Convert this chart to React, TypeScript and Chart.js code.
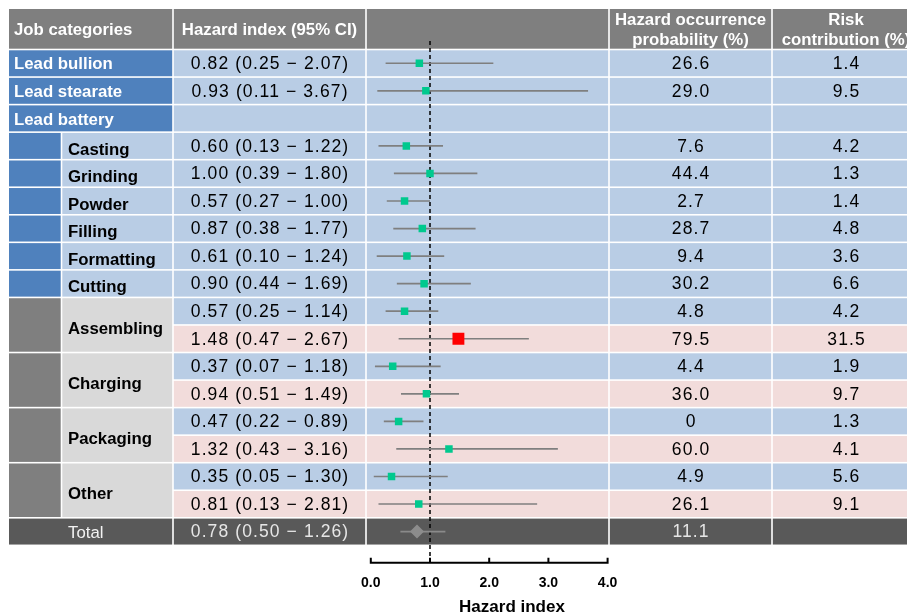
import React, { useEffect, useRef } from 'react';
import { Chart, registerables } from 'chart.js';

Chart.register(...registerables);

// ---------- data ----------
const topLabels = ['Lead bullion', 'Lead stearate', 'Lead battery'];
const subLabels = ['Casting', 'Grinding', 'Powder', 'Filling', 'Formatting', 'Cutting'];
const groupLabels = ['Assembling', 'Charging', 'Packaging', 'Other'];
const totalLabel = 'Total';

const hazardIndex: (number | null)[] = [0.82, 0.93, null, 0.60, 1.00, 0.57, 0.87, 0.61, 0.90, 0.57, 1.48, 0.37, 0.94, 0.47, 1.32, 0.35, 0.81, 0.78];
const ciLower: (number | null)[] = [0.25, 0.11, null, 0.13, 0.39, 0.27, 0.38, 0.10, 0.44, 0.25, 0.47, 0.07, 0.51, 0.22, 0.43, 0.05, 0.13, 0.50];
const ciUpper: (number | null)[] = [2.07, 3.67, null, 1.22, 1.80, 1.00, 1.77, 1.24, 1.69, 1.14, 2.67, 1.18, 1.49, 0.89, 3.16, 1.30, 2.81, 1.26];
const occurrenceProb = ['26.6', '29.0', '', '7.6', '44.4', '2.7', '28.7', '9.4', '30.2', '4.8', '79.5', '4.4', '36.0', '0', '60.0', '4.9', '26.1', '11.1'];
const riskContribution = ['1.4', '9.5', '', '4.2', '1.3', '1.4', '4.8', '3.6', '6.6', '4.2', '31.5', '1.9', '9.7', '1.3', '4.1', '5.6', '9.1', ''];
const xTickValues = [0, 1, 2, 3, 4];
const highlightRow = 10;
const totalRow = 17;

const headers = {
  job: 'Job categories',
  hi: 'Hazard index (95% CI)',
  prob: ['Hazard occurrence', 'probability (%)'],
  risk: ['Risk', 'contribution (%)'],
  axis: 'Hazard index',
};

// ---------- styles ----------
const FONT = "'Liberation Sans', Arial, sans-serif";
const C_HEADER = '#7f7f7f';
const C_BLUE = '#4f81bd';
const C_LIGHTBLUE = '#b9cde5';
const C_PINK = '#f2dcdb';
const C_GRAY = '#7f7f7f';
const C_LIGHTGRAY = '#d9d9d9';
const C_TOTAL = '#595959';
const C_GREEN = '#00c98e';
const C_RED = '#ff0000';

const COLS = [8.2, 173, 366, 609, 772, 930];
const SUBSPLIT = 61.5;
const G = 0.8;
const NUM_SPACING = 1.1;

function ciText(i: number) {
  const e = hazardIndex[i], l = ciLower[i], h = ciUpper[i];
  if (e == null || l == null || h == null) return '';
  return `${e.toFixed(2)} (${l.toFixed(2)} \u2212 ${h.toFixed(2)})`;
}

function spacedCenter(ctx: any, text: string, cx: number, cy: number, spacing: number) {
  if (!text) return;
  ctx.letterSpacing = `${spacing}px`;
  ctx.textAlign = 'center';
  ctx.fillText(text, cx + spacing / 2, cy);
  ctx.letterSpacing = '0px';
}

const tablePlugin = {
  id: 'tablePlugin',
  beforeDraw(chart: any) {
    const { ctx } = chart;
    const y = chart.scales.y;
    const top = (i: number) => y.getPixelForValue(i - 0.5);
    const bot = (i: number) => y.getPixelForValue(i + 0.5);
    const cell = (x0: number, x1: number, y0: number, y1: number, c: string) => {
      ctx.fillStyle = c;
      ctx.fillRect(x0 + G, y0 + G, x1 - x0 - 2 * G, y1 - y0 - 2 * G);
    };
    ctx.save();
    ctx.fillStyle = '#ffffff';
    ctx.fillRect(0, 0, chart.width, chart.height);

    // header
    for (let c = 0; c < 5; c++) cell(COLS[c], COLS[c + 1], 8.2, top(0), C_HEADER);

    const nRows = hazardIndex.length;
    for (let i = 0; i < nRows; i++) {
      let bg = C_LIGHTBLUE;
      if (i === totalRow) bg = C_TOTAL;
      else if (i >= 9 && (i - 9) % 2 === 1) bg = C_PINK;
      for (let c = 1; c < 5; c++) cell(COLS[c], COLS[c + 1], top(i), bot(i), bg);
      if (i < 3) cell(COLS[0], COLS[1], top(i), bot(i), C_BLUE);
      else if (i < 9) {
        cell(COLS[0], SUBSPLIT, top(i), bot(i), C_BLUE);
        cell(SUBSPLIT, COLS[1], top(i), bot(i), C_LIGHTBLUE);
      } else if (i < totalRow) {
        if ((i - 9) % 2 === 0) {
          cell(COLS[0], SUBSPLIT, top(i), bot(i + 1), C_GRAY);
          cell(SUBSPLIT, COLS[1], top(i), bot(i + 1), C_LIGHTGRAY);
        }
      } else {
        cell(COLS[0], COLS[1], top(i), bot(i), C_TOTAL);
      }
    }

    // header text
    ctx.textBaseline = 'middle';
    ctx.fillStyle = '#ffffff';
    ctx.font = `bold 16.8px ${FONT}`;
    ctx.textAlign = 'left';
    ctx.fillText(headers.job, 14, 30.5);
    ctx.textAlign = 'center';
    ctx.fillText(headers.hi, (COLS[1] + COLS[2]) / 2, 30.5);
    ctx.fillText(headers.prob[0], (COLS[3] + COLS[4]) / 2, 20);
    ctx.fillText(headers.prob[1], (COLS[3] + COLS[4]) / 2, 40);
    ctx.fillText(headers.risk[0], 846, 20);
    ctx.fillText(headers.risk[1], 846, 40);

    // column 1 labels
    ctx.textAlign = 'left';
    ctx.font = `bold 16.8px ${FONT}`;
    topLabels.forEach((t, k) => {
      ctx.fillStyle = '#ffffff';
      ctx.fillText(t, 14, y.getPixelForValue(k) + 1.5);
    });
    subLabels.forEach((t, k) => {
      ctx.fillStyle = '#000000';
      ctx.fillText(t, 68, y.getPixelForValue(3 + k) + 4);
    });
    groupLabels.forEach((t, k) => {
      ctx.fillStyle = '#000000';
      ctx.fillText(t, 68, y.getPixelForValue(9 + 2 * k + 0.5) + 4);
    });
    ctx.font = `16.8px ${FONT}`;
    ctx.fillStyle = '#f2f2f2';
    ctx.fillText(totalLabel, 68, y.getPixelForValue(totalRow) + 1.5);

    // numeric columns
    ctx.font = `17.5px ${FONT}`;
    for (let i = 0; i < nRows; i++) {
      const py = y.getPixelForValue(i) + 1;
      ctx.fillStyle = i === totalRow ? '#e6e6e6' : '#000000';
      spacedCenter(ctx, ciText(i), (COLS[1] + COLS[2]) / 2, py, NUM_SPACING);
      spacedCenter(ctx, occurrenceProb[i], (COLS[3] + COLS[4]) / 2, py, NUM_SPACING);
      spacedCenter(ctx, riskContribution[i], 846, py, NUM_SPACING);
    }
    ctx.restore();
  },
  beforeDatasetsDraw(chart: any) {
    const { ctx, chartArea } = chart;
    const x = chart.scales.x;
    const px = x.getPixelForValue(1);
    ctx.save();
    ctx.strokeStyle = '#000000';
    ctx.lineWidth = 1.5;
    ctx.setLineDash([4, 3]);
    ctx.beginPath();
    ctx.moveTo(px, 41);
    ctx.lineTo(px, chartArea.bottom);
    ctx.stroke();
    ctx.restore();
  },
  afterDraw(chart: any) {
    const { ctx, chartArea } = chart;
    const x = chart.scales.x;
    const yb = chartArea.bottom;
    ctx.save();
    ctx.strokeStyle = '#000000';
    ctx.lineWidth = 2;
    ctx.beginPath();
    ctx.moveTo(x.getPixelForValue(xTickValues[0]), yb);
    ctx.lineTo(x.getPixelForValue(xTickValues[xTickValues.length - 1]), yb);
    xTickValues.forEach((v) => {
      const p = x.getPixelForValue(v);
      ctx.moveTo(p, yb + 1);
      ctx.lineTo(p, yb - 5);
    });
    ctx.stroke();
    ctx.fillStyle = '#000000';
    ctx.font = `bold 17px ${FONT}`;
    ctx.textAlign = 'center';
    ctx.textBaseline = 'middle';
    ctx.fillText(headers.axis, 512, 607);
    ctx.restore();
  },
};

export default function App() {
  const ref = useRef<HTMLCanvasElement | null>(null);
  useEffect(() => {
    if (!ref.current) return;
    const rows = hazardIndex.map((_, i) => i).filter((i) => hazardIndex[i] != null);
    const ciSets = rows.map((i) => ({
      type: 'line' as const,
      data: [
        { x: ciLower[i] as number, y: i },
        { x: ciUpper[i] as number, y: i },
      ],
      borderColor: i === totalRow ? '#8a8a8a' : '#7f7f7f',
      borderWidth: 1.7,
      pointRadius: 0,
      showLine: true,
      order: 2,
    }));
    const markerRows = rows.filter((i) => i !== totalRow);
    const markers = {
      type: 'scatter' as const,
      data: markerRows.map((i) => ({ x: hazardIndex[i] as number, y: i })),
      pointStyle: 'rect',
      pointRadius: markerRows.map((i) => (i === highlightRow ? 8.4 : 5.3)),
      backgroundColor: markerRows.map((i) => (i === highlightRow ? C_RED : C_GREEN)),
      borderWidth: 0,
      order: 0,
    };
    const totalDiamond = {
      type: 'scatter' as const,
      data: [{ x: hazardIndex[totalRow] as number, y: totalRow }],
      pointStyle: 'rectRot',
      pointRadius: 7,
      backgroundColor: '#8c8c8c',
      borderWidth: 0,
      order: 0,
    };
    const chart = new Chart(ref.current, {
      type: 'scatter',
      data: { datasets: [markers, totalDiamond, ...ciSets] as any },
      options: {
        responsive: false,
        animation: false,
        devicePixelRatio: 1,
        layout: { padding: { left: 370.8, right: 907 - 607.6, top: 49.5, bottom: 0 } },
        scales: {
          x: {
            type: 'linear',
            min: xTickValues[0],
            max: xTickValues[xTickValues.length - 1],
            position: 'bottom',
            grid: { display: false, drawTicks: false },
            border: { display: false },
            afterBuildTicks: (s: any) => {
              s.ticks = xTickValues.map((v) => ({ value: v }));
            },
            afterFit: (s: any) => {
              s.height = 53.3;
            },
            ticks: {
              padding: 12,
              color: '#000000',
              font: { family: FONT, size: 14, weight: 'bold' },
              callback: (v: any) => Number(v).toFixed(1),
            },
          },
          y: {
            type: 'linear',
            min: -0.5,
            max: 18.13,
            reverse: true,
            display: false,
          },
        },
        plugins: {
          legend: { display: false },
          tooltip: { enabled: false },
        },
      } as any,
      plugins: [tablePlugin],
    });
    return () => chart.destroy();
  }, []);
  return (
    <canvas
      ref={ref}
      width={907}
      height={616}
      style={{ position: 'absolute', left: 0, top: 0, width: 907, height: 616 }}
    />
  );
}
